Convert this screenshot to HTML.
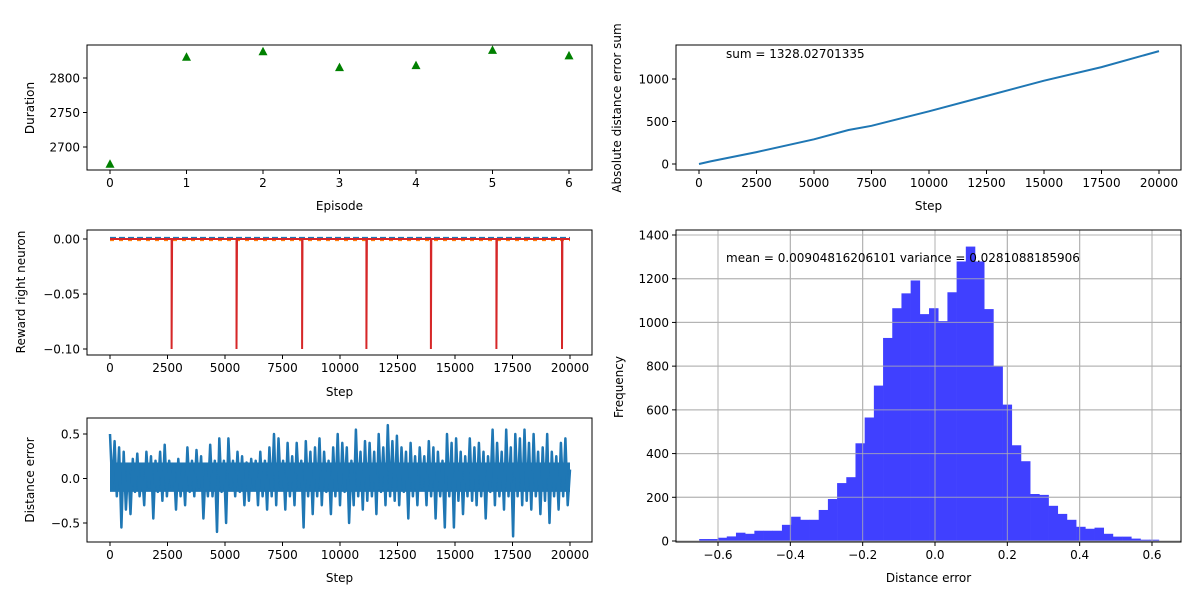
<!DOCTYPE html>
<html><head><meta charset="utf-8"><style>
body{margin:0;background:#fff}
svg{font-family:"DejaVu Sans","Liberation Sans",sans-serif;font-size:12px}
</style></head><body>
<svg id="fig" width="1200" height="600" xmlns="http://www.w3.org/2000/svg"></svg>
<script>
const episodes=[0,1,2,3,4,5,6];
const durations=[2675,2830,2838,2815,2818,2840,2832];
const episodeEnds=[2680,5500,8350,11150,13950,16800,19650];
const rewardMin=-0.1;
const sumSteps=[0,500,2500,5000,6500,7500,10000,12500,15000,17500,20000];
const sumValues=[0,30,140,290,400,450,620,800,980,1140,1328];
const distErr=[0.5,-0.1,0.42,-0.2,0.35,-0.55,0.3,-0.35,0.15,-0.4,0.22,-0.15,0.28,-0.2,0.1,-0.3,0.3,-0.1,0.25,-0.45,0.2,-0.15,0.3,-0.25,0.38,-0.2,0.2,-0.1,0.15,-0.35,0.22,-0.2,0.15,-0.3,0.35,-0.15,0.2,-0.2,0.32,-0.1,0.25,-0.45,0.1,-0.2,0.38,-0.2,0.2,-0.6,0.45,-0.15,0.2,-0.5,0.45,-0.1,0.2,-0.2,0.3,-0.15,0.25,-0.3,0.18,-0.25,0.22,-0.1,0.2,-0.3,0.3,-0.2,0.2,-0.35,0.35,-0.2,0.5,-0.3,0.45,-0.1,0.2,-0.35,0.4,-0.2,0.25,-0.3,0.4,-0.1,0.2,-0.55,0.42,-0.2,0.3,-0.4,0.35,-0.2,0.45,-0.3,0.3,-0.15,0.2,-0.4,0.35,-0.2,0.5,-0.3,0.4,-0.15,0.35,-0.5,0.2,-0.3,0.55,-0.2,0.3,-0.35,0.42,-0.25,0.4,-0.2,0.3,-0.4,0.5,-0.15,0.35,-0.3,0.6,-0.2,0.42,-0.25,0.48,-0.3,0.35,-0.15,0.3,-0.45,0.4,-0.2,0.25,-0.3,0.35,-0.1,0.25,-0.3,0.42,-0.2,0.35,-0.45,0.3,-0.2,0.2,-0.55,0.5,-0.2,0.4,-0.55,0.45,-0.25,0.3,-0.4,0.25,-0.2,0.45,-0.25,0.35,-0.3,0.4,-0.2,0.3,-0.45,0.25,-0.15,0.55,-0.3,0.4,-0.2,0.3,-0.35,0.55,-0.2,0.35,-0.65,0.5,-0.2,0.45,-0.3,0.55,-0.25,0.4,-0.35,0.5,-0.2,0.3,-0.4,0.35,-0.25,0.5,-0.5,0.3,-0.2,0.25,-0.35,0.4,-0.2,0.45,-0.3,0.1];
const bandLow=-0.15, bandHigh=0.18;
const binStart=-0.652, binWidth=0.02542;
const counts=[9,9,15,21,38,33,47,47,47,74,111,97,97,142,192,265,292,447,565,711,929,1065,1133,1192,1038,1065,1006,1138,1279,1347,1279,1061,800,624,438,365,215,211,161,124,97,65,56,61,33,20,20,11,6,6];
const durTicks=[2700,2750,2800];
const stepTicks=[0,2500,5000,7500,10000,12500,15000,17500,20000];
const rewTicks=[0,-0.05,-0.1], rewLabels=["0.00","−0.05","−0.10"];
const errTicks=[0.5,0,-0.5], errLabels=["0.5","0.0","−0.5"];
const sumTicks=[0,500,1000];
const histX=[-0.6,-0.4,-0.2,0,0.2,0.4,0.6], histXL=["−0.6","−0.4","−0.2","0.0","0.2","0.4","0.6"];
const histY=[0,200,400,600,800,1000,1200,1400];

const S=document.getElementById('fig'),NS='http://www.w3.org/2000/svg';
function el(t,a,p){const e=document.createElementNS(NS,t);for(const k in a)e.setAttribute(k,a[k]);(p||S).appendChild(e);return e;}
function txt(x,y,s,anchor,rot,name){const e=el('text',{x:x,y:y,'text-anchor':anchor||'middle',fill:'#000'});if(rot)e.setAttribute('transform','rotate(-90 '+x+' '+y+')');e.textContent=s;


return e;}
function lin(d0,d1,r0,r1){return v=>r0+(v-d0)*(r1-r0)/(d1-d0);}
function frame(x0,y0,x1,y1,name){const r=el('rect',{x:x0,y:y0,width:x1-x0,height:y1-y0,fill:'none',stroke:'#000','stroke-width':1});

}
function xticks(vals,labs,sx,yb,name){vals.forEach((v,i)=>{const x=sx(v);el('line',{x1:x,x2:x,y1:yb,y2:yb+4,stroke:'#000'});txt(x,yb+17,labs[i],'middle',0,name);});}
function yticks(vals,labs,sy,xl,name){vals.forEach((v,i)=>{const y=sy(v);el('line',{x1:xl-4,x2:xl,y1:y,y2:y,stroke:'#000'});txt(xl-7,y+4.5,labs[i],'end',0,name);});}
function path(pts,attrs,name){const p=el('path',Object.assign({d:'M'+pts.map(q=>q[0].toFixed(1)+','+q[1].toFixed(1)).join('L'),fill:'none'},attrs));

return p;}

// Panel 1: duration
{const sx=lin(0,6,110,569),sy=lin(2700,2800,147,78);
frame(87,45,592,170,'duration-axes');
episodes.forEach((e,i)=>{const x=sx(e),y=sy(durations[i]);const t=el('polygon',{points:`${x},${y-5} ${x-4.5},${y+3.5} ${x+4.5},${y+3.5}`,fill:'#008000'});

});
xticks(episodes,episodes.map(String),sx,170,'episode-tick');
yticks(durTicks,durTicks.map(String),sy,87,'duration-tick');
txt(339.5,210,'Episode','middle',0,'x-axis-title');txt(34,108,'Duration','middle',1,'y-axis-title');}

// Panel 2: reward
{const sx=lin(0,20000,110,570),sy=lin(0,-0.1,239,349);
frame(87,230,592,355,'reward-axes');
path([[sx(0),sy(0.001)],[sx(20000),sy(0.001)]],{stroke:'#1f77b4','stroke-width':2,'stroke-dasharray':'6 3'},'reward-left-line');
path([[sx(0),sy(-0.001)],[sx(20000),sy(-0.001)]],{stroke:'#ff7f0e','stroke-width':2,'stroke-dasharray':'4 5'},'reward-orange-line');
const pts=[[sx(0),sy(0)]];episodeEnds.forEach(s=>{pts.push([sx(s),sy(0)],[sx(s),sy(rewardMin)],[sx(s+20),sy(0)]);});pts.push([sx(20000),sy(0)]);
path(pts,{stroke:'#d62728','stroke-width':2},'reward-right-line');
xticks(stepTicks,stepTicks.map(String),sx,355,'step-tick');
yticks(rewTicks,rewLabels,sy,87,'reward-tick');
txt(339.5,396,'Step','middle',0,'x-axis-title');txt(25,292,'Reward right neuron','middle',1,'y-axis-title');}

// Panel 3: distance error
{const sx=lin(0,20000,110,570),sy=lin(0.5,-0.5,434,523);
frame(87,418,592,542,'distance-error-axes');
const b=el('rect',{x:sx(0),y:sy(bandHigh),width:sx(20000)-sx(0),height:sy(bandLow)-sy(bandHigh),fill:'#1f77b4'});


path(distErr.map((v,i)=>[sx(i*20000/(distErr.length-1)),sy(v)]),{stroke:'#1f77b4','stroke-width':2.5,'stroke-linejoin':'round'},'distance-error-line');
xticks(stepTicks,stepTicks.map(String),sx,542,'step-tick');
yticks(errTicks,errLabels,sy,87,'error-tick');
txt(339.5,582,'Step','middle',0,'x-axis-title');txt(34,480,'Distance error','middle',1,'y-axis-title');}

// Panel 4: error sum
{const sx=lin(0,20000,699,1159),sy=lin(0,1000,164,79);
frame(676,45,1181,170,'error-sum-axes');
path(sumSteps.map((s,i)=>[sx(s),sy(sumValues[i])]),{stroke:'#1f77b4','stroke-width':2},'error-sum-line');
txt(726,58,'sum = 1328.02701335','start',0,'sum-annotation');
xticks(stepTicks,stepTicks.map(String),sx,170,'step-tick');
yticks(sumTicks,sumTicks.map(String),sy,676,'sum-tick');
txt(928.5,210,'Step','middle',0,'x-axis-title');txt(621,108,'Absolute distance error sum','middle',1,'y-axis-title');}

// Panel 5: histogram
{const sx=lin(-0.6,0.6,718,1152),sy=lin(0,1400,541,235);
histY.forEach(v=>el('line',{x1:676,x2:1181,y1:sy(v),y2:sy(v),stroke:'#b0b0b0'}));
histX.forEach(v=>el('line',{x1:sx(v),x2:sx(v),y1:230,y2:542,stroke:'#b0b0b0'}));
counts.forEach((c,i)=>{const x0=sx(binStart+i*binWidth),x1=sx(binStart+(i+1)*binWidth);const r=el('rect',{x:x0,y:sy(c),width:x1-x0+0.3,height:sy(0)-sy(c),fill:'#4040ff'});

});
histY.forEach(v=>el('line',{x1:676,x2:1181,y1:sy(v),y2:sy(v),stroke:'#b0b0b0','stroke-opacity':0.8}));
histX.forEach(v=>el('line',{x1:sx(v),x2:sx(v),y1:230,y2:542,stroke:'#b0b0b0','stroke-opacity':0.8}));
frame(676,230,1181,542,'histogram-axes');
txt(726,262,'mean = 0.00904816206101 variance = 0.0281088185906','start',0,'stats-annotation');
xticks(histX,histXL,sx,542,'hist-x-tick');
yticks(histY,histY.map(String),sy,676,'hist-y-tick');
txt(928.5,582,'Distance error','middle',0,'x-axis-title');txt(623,387,'Frequency','middle',1,'y-axis-title');}
</script>
</body></html>
